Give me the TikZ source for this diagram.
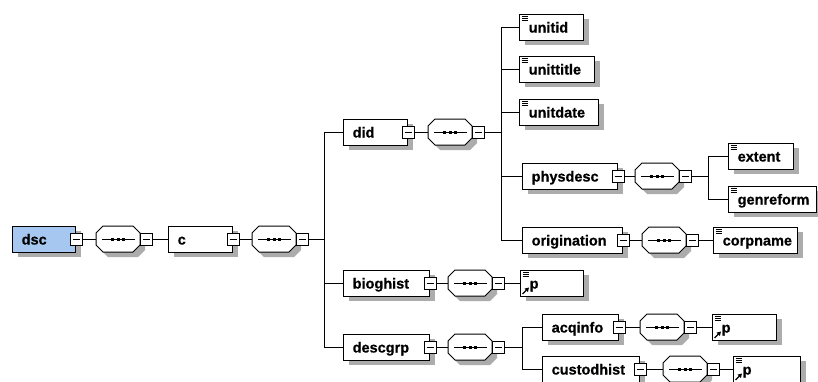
\documentclass[tikz,border=0pt]{standalone}
\usepackage{fontspec}
\setmainfont{Liberation Sans}
\newfontfamily\lblfont[FakeBold=0.7]{Liberation Sans Bold}
\usetikzlibrary{shadows,arrows.meta,calc}
\definecolor{shadowc}{RGB}{172,172,172}
\definecolor{dscblue}{RGB}{166,200,240}
\tikzset{
  shad/.style={general shadow={fill=shadowc, shadow xshift=5pt, shadow yshift=-5pt}},
  elem/.style={rectangle, draw=black, line width=1pt, fill=white, minimum height=26pt, inner sep=0pt, shad, anchor=west},
  octo/.style={rectangle, draw=none, minimum width=44pt, minimum height=26pt, inner sep=0pt, anchor=west},
  minusbox/.style={rectangle, draw=black, line width=0.9pt, fill=white, minimum size=12pt, inner sep=0pt,
    path picture={\draw[line width=0.9pt] ([xshift=2.5pt]path picture bounding box.west) -- ([xshift=-2.5pt]path picture bounding box.east);}},
  lbl/.style={font=\lblfont\fontsize{14.5}{16}\selectfont, inner sep=0pt, anchor=base west},
  conn/.style={line width=0.9pt, draw=black},
  icon/.style={line width=0.9pt, draw=black},
}
\newcommand\Elem[6][]{%
  \node[elem, minimum width=#4pt, #1] (#2) at (#3,#5) {};
  \node[lbl] (#2-t) at ($(#2.west)+(9.5,5.5)$) {#6};
  \node[minusbox] (#2-m) at (#2.east) {};
}
\newcommand\Simple[5]{%
  \node[elem, minimum width=#3pt] (#1) at (#2,#4) {};
  \draw[icon] ($(#1.north west)+(2.5,2.5)$) -- ++(6,0);
  \draw[icon] ($(#1.north west)+(2.5,4.5)$) -- ++(6,0);
  \draw[icon] ($(#1.north west)+(2.5,6.5)$) -- ++(6,0);
  \node[lbl] (#1-t) at ($(#1.west)+(9.5,5.5)$) {#5};
}
\newcommand\RefEl[4]{%
  \Simple{#1}{#2}{#3}{#4}{p}
  \draw[line width=1.1pt, -{Triangle[length=4pt,width=4.5pt]}] ($(#1.south west)+(2.5,-2.5)$) -- ++(6.5,-6.5);
}
\newcommand\Seq[3]{%
  \node[octo] (#1) at (#2,#3) {};
  \begin{scope}[shift={(#1.west)}]
    \fill[shadowc] (12,-8) -- (42,-8) -- (49,-1) -- (49,11) -- (42,18) -- (12,18) -- (5,11) -- (5,-1) -- cycle;
    \filldraw[fill=white, draw=black, line width=1pt] (7,-13) -- (37,-13) -- (44,-6) -- (44,6) -- (37,13) -- (7,13) -- (0,6) -- (0,-6) -- cycle;
    \draw[line width=0.9pt] (6,0) -- (39,0);
    \fill (15,-1.5) rectangle ++(3,3);
    \fill (20.5,-1.5) rectangle ++(3,3);
    \fill (26,-1.5) rectangle ++(3,3);
  \end{scope}
  \node[minusbox, anchor=west] (#1-m) at (#1.east) {};
}
\begin{document}
\begin{tikzpicture}[x=1pt, y=-1pt]
\useasboundingbox (0,0) rectangle (818,381);
\fill[white] (0,0) rectangle (818,381);
\clip (0,0) rectangle (818,381);

\Elem[fill=dscblue]{dsc}{12}{63}{239}{dsc}
\Seq{s1}{96}{239}
\Elem{c}{168}{64}{239}{c}
\Seq{s2}{252}{239}

\Elem{did}{343}{64}{132}{did}
\Seq{sdid}{428}{132}
\Simple{unitid}{519}{64}{27}{unitid}
\Simple{unittitle}{519}{75}{69}{unittitle}
\Simple{unitdate}{519}{79}{112}{unitdate}
\Elem{physdesc}{522}{95}{176}{physdesc}
\Seq{sphys}{635}{176}
\Simple{extent}{728}{65}{156}{extent}
\Simple{genreform}{728}{88}{199}{genreform}
\Elem{origination}{522}{100}{240}{origination}
\Seq{sorig}{642}{240}
\Simple{corpname}{713}{84}{240}{corpname}

\Elem{bioghist}{343}{86}{283}{bioghist}
\Seq{sbio}{448}{283}
\RefEl{p1}{520}{63}{283}

\Elem{descgrp}{343}{86}{347}{descgrp}
\Seq{sdesc}{448}{347}
\Elem{acqinfo}{542}{76}{327}{acqinfo}
\Seq{sacq}{640}{327}
\RefEl{p2}{712}{64}{327}
\Elem{custodhist}{542}{97}{369}{custodhist}
\Seq{scust}{663}{369}
\RefEl{p3}{733}{67}{369}

\draw[conn] (dsc-m.east) -- (s1.west);
\draw[conn] (s1-m.east) -- (c.west);
\draw[conn] (c-m.east) -- (s2.west);
\draw[conn] (s2-m.east) -- ++(15,0) |- (did.west);
\draw[conn] (s2-m.east) -- ++(15,0) |- (bioghist.west);
\draw[conn] (s2-m.east) -- ++(15,0) |- (descgrp.west);

\draw[conn] (did-m.east) -- (sdid.west);
\draw[conn] (sdid-m.east) -- ++(16,0) |- (unitid.west);
\draw[conn] (sdid-m.east) -- ++(16,0) |- (unittitle.west);
\draw[conn] (sdid-m.east) -- ++(16,0) |- (unitdate.west);
\draw[conn] (sdid-m.east) -- ++(16,0) |- (physdesc.west);
\draw[conn] (sdid-m.east) -- ++(16,0) |- (origination.west);

\draw[conn] (physdesc-m.east) -- (sphys.west);
\draw[conn] (sphys-m.east) -- ++(16,0) |- (extent.west);
\draw[conn] (sphys-m.east) -- ++(16,0) |- (genreform.west);
\draw[conn] (origination-m.east) -- (sorig.west);
\draw[conn] (sorig-m.east) -- (corpname.west);

\draw[conn] (bioghist-m.east) -- (sbio.west);
\draw[conn] (sbio-m.east) -- (p1.west);

\draw[conn] (descgrp-m.east) -- (sdesc.west);
\draw[conn] (sdesc-m.east) -- ++(17,0) |- (acqinfo.west);
\draw[conn] (sdesc-m.east) -- ++(17,0) |- (custodhist.west);
\draw[conn] (acqinfo-m.east) -- (sacq.west);
\draw[conn] (sacq-m.east) -- (p2.west);
\draw[conn] (custodhist-m.east) -- (scust.west);
\draw[conn] (scust-m.east) -- (p3.west);
\end{tikzpicture}
\end{document}
